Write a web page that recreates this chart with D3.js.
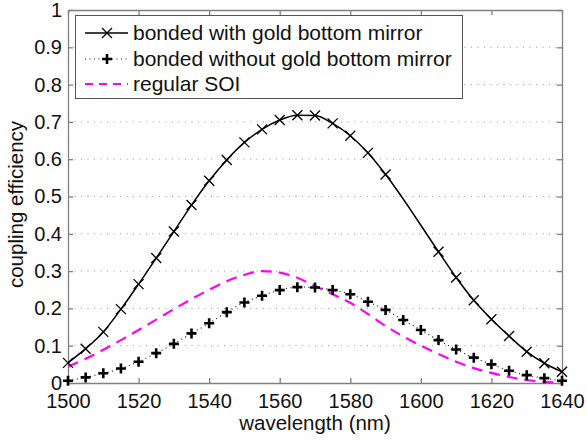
<!DOCTYPE html>
<html><head><meta charset="utf-8">
<script src="https://cdn.jsdelivr.net/npm/d3@7"></script>
<style>body{margin:0;background:#fff}svg{display:block}text{font-family:"Liberation Sans",Arial,sans-serif;fill:#111}</style>
</head><body><svg id="c" width="587" height="440"></svg>
<script>
const goldX = [1500,1505,1510,1515,1520,1525,1530,1535,1540,1545,1550,1555,1560,1565,1570,1575,1580,1585,1590,1605,1610,1615,1620,1625,1630,1635,1640];
const goldY = [0.054,0.092,0.137,0.198,0.265,0.335,0.406,0.477,0.542,0.598,0.645,0.680,0.705,0.718,0.717,0.696,0.663,0.617,0.559,0.352,0.283,0.222,0.171,0.126,0.084,0.053,0.030];
const noGoldX = [1500,1505,1510,1515,1520,1525,1530,1535,1540,1545,1550,1555,1560,1565,1570,1575,1580,1585,1590,1595,1600,1605,1610,1615,1620,1625,1630,1635,1640];
const noGoldY = [0.006,0.015,0.026,0.039,0.057,0.080,0.105,0.133,0.160,0.190,0.216,0.234,0.249,0.257,0.256,0.249,0.238,0.218,0.196,0.169,0.142,0.115,0.090,0.068,0.050,0.033,0.021,0.013,0.006];
const soiX = [1500,1505,1510,1515,1520,1525,1530,1535,1540,1545,1550,1555,1560,1565,1570,1575,1580,1585,1590,1595,1600,1605,1610,1615,1620,1625,1630,1635,1640];
const soiY = [0.044,0.065,0.089,0.115,0.142,0.170,0.198,0.225,0.250,0.273,0.290,0.300,0.296,0.282,0.260,0.238,0.215,0.185,0.153,0.125,0.100,0.078,0.057,0.040,0.027,0.016,0.008,0.003,0.001];
const xTicks = [1500,1520,1540,1560,1580,1600,1620,1640];
const yTicks = [0,0.1,0.2,0.3,0.4,0.5,0.6,0.7,0.8,0.9,1];
const legendLabels = ["bonded with gold bottom mirror","bonded without gold bottom mirror","regular SOI"];
const xLabel = "wavelength (nm)";
const yLabel = "coupling efficiency";

const L=68,R=562,T=10,B=383;
const svg=d3.select("#c");
const x=d3.scaleLinear().domain([1500,1640]).range([L,R]);
const y=d3.scaleLinear().domain([0,1]).range([B,T]);
const axisCol="#808080";

// grid
svg.append("g").selectAll("line").data(yTicks.filter(d=>d>0&&d<1)).join("line")
  .attr("x1",L).attr("x2",R).attr("y1",d=>y(d)).attr("y2",d=>y(d))
  .attr("stroke","#999").attr("stroke-width",1).attr("stroke-dasharray","1,5.5");

// axes
const fmt=d=>d===0?"0":d===1?"1":d.toFixed(1);
const gx=svg.append("g").attr("transform",`translate(0,${B})`).call(d3.axisBottom(x).tickValues(xTicks).tickSizeInner(-5).tickSizeOuter(0).tickPadding(11).tickFormat(d3.format("d")));
const gxt=svg.append("g").attr("transform",`translate(0,${T})`).call(d3.axisTop(x).tickValues(xTicks).tickSizeInner(-5).tickSizeOuter(0).tickFormat(""));
const gy=svg.append("g").attr("transform",`translate(${L},0)`).call(d3.axisLeft(y).tickValues(yTicks).tickSizeInner(-5).tickSizeOuter(0).tickPadding(6).tickFormat(fmt));
const gyr=svg.append("g").attr("transform",`translate(${R},0)`).call(d3.axisRight(y).tickValues(yTicks).tickSizeInner(-5).tickSizeOuter(0).tickFormat(""));
[gx,gxt,gy,gyr].forEach(g=>{g.selectAll("path,line").attr("stroke",axisCol).attr("stroke-width",1.3);g.selectAll("text").attr("font-size",20).attr("fill","#111").attr("font-family","Liberation Sans, Arial, sans-serif");});
gx.selectAll("text").attr("dy","0.71em");

// series
const line=d3.line().x(d=>x(d[0])).y(d=>y(d[1])).curve(d3.curveMonotoneX);
const gold=goldX.map((v,i)=>[v,goldY[i]]);
const nog=noGoldX.map((v,i)=>[v,noGoldY[i]]);
const soi=soiX.map((v,i)=>[v,soiY[i]]);

svg.append("path").datum(soi).attr("d",line).attr("fill","none").attr("stroke","#f0f").attr("stroke-width",2.2).attr("stroke-dasharray","11,7");
svg.append("path").datum(nog).attr("d",line).attr("fill","none").attr("stroke","#222").attr("stroke-width",1.2).attr("stroke-dasharray","1,3.5");
svg.append("path").datum(gold).attr("d",line).attr("fill","none").attr("stroke","#000").attr("stroke-width",1.5);

const xMark=(g,cx,cy)=>{const s=5;g.append("path").attr("d",`M${cx-s},${cy-s}L${cx+s},${cy+s}M${cx-s},${cy+s}L${cx+s},${cy-s}`).attr("stroke","#000").attr("stroke-width",1.3).attr("fill","none");};
const pMark=(g,cx,cy)=>{const s=5;g.append("path").attr("d",`M${cx-s},${cy}L${cx+s},${cy}M${cx},${cy-s}L${cx},${cy+s}`).attr("stroke","#000").attr("stroke-width",2.6).attr("fill","none");};
const gm=svg.append("g");
gold.forEach(d=>xMark(gm,x(d[0]),y(d[1])));
nog.forEach(d=>pMark(gm,x(d[0]),y(d[1])));

// labels
svg.append("text").attr("x",(L+R)/2).attr("y",430).attr("text-anchor","middle").attr("font-size",20.5).text(xLabel);
svg.append("text").attr("transform",`translate(23,${(T+B)/2+8}) rotate(-90)`).attr("text-anchor","middle").attr("font-size",20.5).text(yLabel);

// legend
const lg=svg.append("g");
lg.append("rect").attr("x",75.5).attr("y",15.5).attr("width",387).attr("height",83).attr("fill","#fff").attr("stroke","#555").attr("stroke-width",1);
const rows=[33,59,84];
const sx1=85,sx2=128,mx=107;
lg.append("line").attr("x1",sx1).attr("x2",sx2).attr("y1",rows[0]).attr("y2",rows[0]).attr("stroke","#000").attr("stroke-width",1.5);
xMark(lg,mx,rows[0]);
lg.append("line").attr("x1",sx1).attr("x2",sx2).attr("y1",rows[1]).attr("y2",rows[1]).attr("stroke","#222").attr("stroke-width",1.2).attr("stroke-dasharray","1,3.5");
pMark(lg,mx,rows[1]);
lg.append("line").attr("x1",sx1).attr("x2",sx2).attr("y1",rows[2]).attr("y2",rows[2]).attr("stroke","#f0f").attr("stroke-width",2.2).attr("stroke-dasharray","8,6");
legendLabels.forEach((t,i)=>lg.append("text").attr("x",133).attr("y",rows[i]).attr("dy","0.35em").attr("font-size",21).text(t));
</script></body></html>
